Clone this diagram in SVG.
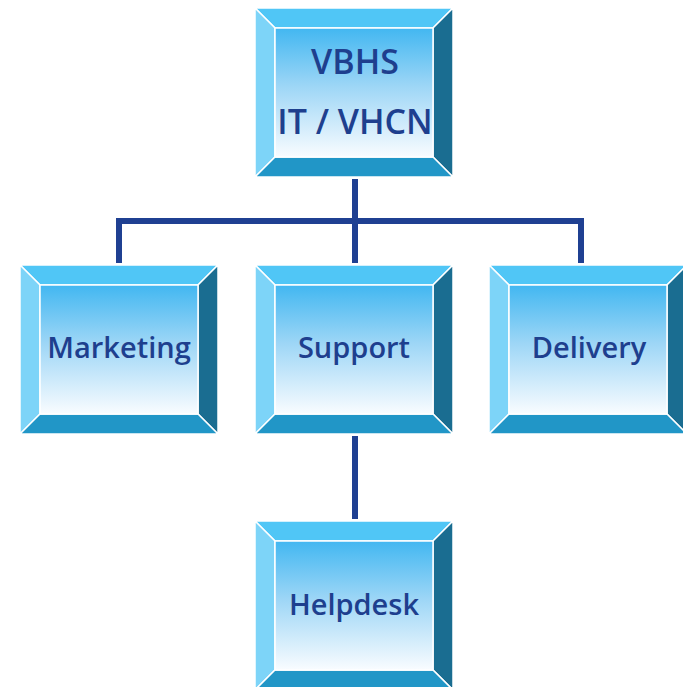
<svg xmlns="http://www.w3.org/2000/svg" width="683" height="687" viewBox="0 0 683 687">
<defs>
<linearGradient id="face" x1="0" y1="0" x2="0" y2="1">
<stop offset="0" stop-color="#42B7F1"/>
<stop offset="0.45" stop-color="#9DD6F6"/>
<stop offset="1" stop-color="#F9FCFF"/>
</linearGradient>
<g id="bevel">
<polygon class="t" points="0,0 198,0 178,20 20,20"/>
<polygon class="l" points="0,0 20,20 20,149 0,169"/>
<polygon class="r" points="198,0 198,169 178,149 178,20"/>
<polygon class="b" points="0,169 20,149 178,149 198,169"/>
<rect class="f" x="20" y="20" width="158" height="129"/>
</g>
</defs>
<style>
.t{fill:#50C6F6;stroke:#fff;stroke-width:1.5;stroke-linejoin:round}
.l{fill:#7DD4F8;stroke:#fff;stroke-width:1.5;stroke-linejoin:round}
.r{fill:#1A6D91;stroke:#fff;stroke-width:1.5;stroke-linejoin:round}
.b{fill:#2196C7;stroke:#fff;stroke-width:1.5;stroke-linejoin:round}
.f{fill:url(#face);stroke:#fff;stroke-width:1.5}
.lbl{font-family:"Open Sans","Liberation Sans",sans-serif;font-weight:600;font-size:29px;fill:#1E3F8E;text-anchor:middle}
.big{font-size:34px}
.conn{fill:none;stroke:#1F4092;stroke-width:6}
</style>
<rect width="683" height="687" fill="#fff"/>
<g id="connectors">
<line class="conn" x1="355" y1="179" x2="355" y2="263"/>
<polyline class="conn" points="119,263 119,221 581,221 581,263"/>
<line class="conn" x1="355" y1="436" x2="355" y2="519"/>
</g>
<g id="vbhs">
<use href="#bevel" x="255" y="8"/>
<text class="lbl big" x="355" y="74">VBHS</text>
<text class="lbl big" x="355" y="134">IT / VHCN</text>
</g>
<g id="marketing">
<use href="#bevel" x="20" y="265"/>
<text class="lbl" x="119" y="358">Marketing</text>
</g>
<g id="support">
<use href="#bevel" x="255" y="265"/>
<text class="lbl" x="354" y="358">Support</text>
</g>
<g id="delivery">
<use href="#bevel" x="489" y="265"/>
<text class="lbl" x="589" y="358">Delivery</text>
</g>
<g id="helpdesk">
<use href="#bevel" x="255" y="521"/>
<text class="lbl" x="354" y="615">Helpdesk</text>
</g>
</svg>
